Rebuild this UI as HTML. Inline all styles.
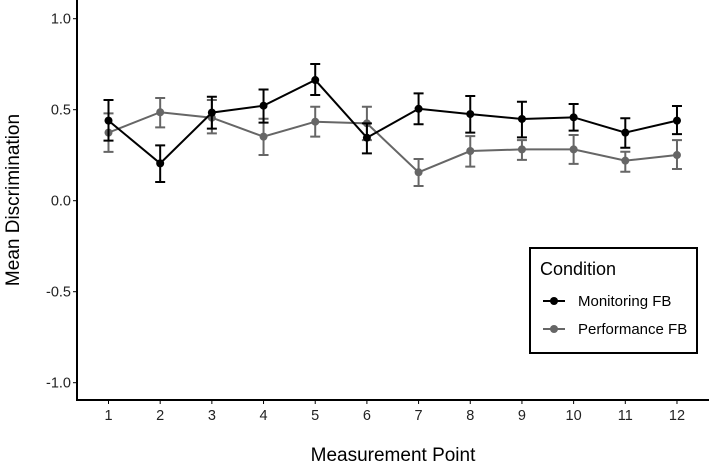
<!DOCTYPE html>
<html><head><meta charset="utf-8"><style>
body{margin:0;background:#fff;}
svg{display:block;font-family:"Liberation Sans",Arial,sans-serif;}
</style></head><body>
<svg id="chart" width="709" height="463" viewBox="0 0 709 463" xmlns="http://www.w3.org/2000/svg"></svg>
<script>
const categories=[1,2,3,4,5,6,7,8,9,10,11,12];
const monitoringMean=[0.44,0.205,0.484,0.522,0.663,0.346,0.505,0.476,0.449,0.458,0.374,0.44];
const monitoringUpper=[0.553,0.304,0.571,0.611,0.751,0.425,0.59,0.575,0.544,0.531,0.453,0.52];
const monitoringLower=[0.33,0.103,0.396,0.429,0.581,0.26,0.42,0.374,0.348,0.385,0.291,0.366];
const performanceMean=[0.374,0.486,0.456,0.352,0.434,0.425,0.156,0.273,0.282,0.282,0.22,0.251];
const performanceUpper=[0.48,0.564,0.553,0.45,0.516,0.516,0.229,0.355,0.333,0.361,0.269,0.333];
const performanceLower=[0.268,0.403,0.37,0.251,0.352,0.333,0.081,0.187,0.224,0.202,0.159,0.174];
const yTicks=[1.0,0.5,0.0,-0.5,-1.0];
const yTickLabels=["1.0","0.5","0.0","-0.5","-1.0"];

const svg=document.getElementById('chart');
const NS="http://www.w3.org/2000/svg";
function mk(tag,attrs,parent){const e=document.createElementNS(NS,tag);for(const k in attrs)e.setAttribute(k,attrs[k]);(parent||svg).appendChild(e);return e;}
const xS=c=>108.5+(c-1)*51.68;
const yS=v=>200.7-182*v;

let ax=mk('line',{x1:77,y1:0,x2:77,y2:401,stroke:'#000','stroke-width':2});


ax=mk('line',{x1:76,y1:400,x2:709,y2:400,stroke:'#000','stroke-width':2});



yTicks.forEach((v,i)=>{
  const t=mk('line',{x1:73,x2:77,y1:yS(v),y2:yS(v),stroke:'#000','stroke-width':1});
  
  
  const l=mk('text',{x:71,y:yS(v)+5,'text-anchor':'end','font-size':14.5,fill:'#222'});
  l.textContent=yTickLabels[i];
  
  
});
categories.forEach(c=>{
  const t=mk('line',{x1:xS(c),x2:xS(c),y1:400,y2:404,stroke:'#000','stroke-width':1});
  
  
  const l=mk('text',{x:xS(c),y:420,'text-anchor':'middle','font-size':14.5,fill:'#222'});
  l.textContent=String(c);
  
  
});

function series(mean,up,lo,color,name){
  const g=mk('g',{});
  
  
  categories.forEach((c,i)=>{
    const x=xS(c);
    const e=mk('path',{d:`M${x-5},${yS(up[i])}H${x+5}M${x},${yS(up[i])}V${yS(lo[i])}M${x-5},${yS(lo[i])}H${x+5}`,stroke:color,'stroke-width':2,fill:'none'},g);
    
    
  });
  const p=mk('polyline',{points:categories.map((c,i)=>xS(c)+','+yS(mean[i])).join(' '),stroke:color,'stroke-width':2,fill:'none'},g);
  
  
  categories.forEach((c,i)=>{
    const d=mk('circle',{cx:xS(c),cy:yS(mean[i]),r:4,fill:color},g);
    
    
  });
}
series(performanceMean,performanceUpper,performanceLower,'#666','performance-series');
series(monitoringMean,monitoringUpper,monitoringLower,'#000','monitoring-series');

let t=mk('text',{x:393,y:461,'text-anchor':'middle','font-size':19,fill:'#000'});
t.textContent='Measurement Point';


t=mk('text',{x:0,y:0,'text-anchor':'middle','font-size':19,fill:'#000',transform:'translate(19,200) rotate(-90)'});
t.textContent='Mean Discrimination';



const lg=mk('g',{});


mk('rect',{x:530,y:248,width:167,height:105,fill:'#fff',stroke:'#000','stroke-width':2},lg);
t=mk('text',{x:540,y:275,'font-size':18,fill:'#000'},lg);
t.textContent='Condition';


[['Monitoring FB','#000',301],['Performance FB','#666',329]].forEach(([n,c,y])=>{
  const e=mk('g',{},lg);
  
  
  mk('line',{x1:543,x2:565,y1:y,y2:y,stroke:c,'stroke-width':2},e);
  mk('circle',{cx:554,cy:y,r:4,fill:c},e);
  const tx=mk('text',{x:578,y:y+5,'font-size':15,fill:'#000'},e);
  tx.textContent=n;
});
</script>
</body></html>
